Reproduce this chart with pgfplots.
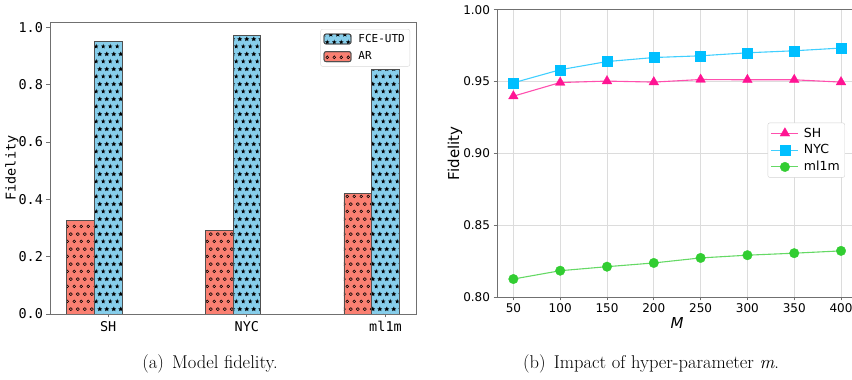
\documentclass[border=0pt]{standalone}
\usepackage{fontspec}
\usepackage{pgfplots}
\pgfplotsset{compat=1.18}
\usetikzlibrary{patterns.meta}
\newfontfamily\djs{DejaVu Sans}[ItalicFont={DejaVu Sans Oblique}]
\newfontfamily\djm{DejaVu Sans Mono}

\definecolor{salmonc}{HTML}{FA8072}
\definecolor{skyc}{HTML}{87CEEB}
\definecolor{pinkc}{HTML}{FF1493}
\definecolor{bluec}{HTML}{00BFFF}
\definecolor{greenc}{HTML}{32CD32}
\definecolor{spine}{HTML}{707070}
\definecolor{gridc}{HTML}{DCDCDC}
\definecolor{edgec}{HTML}{505050}

\tikzdeclarepattern{
  name=mpcircles,
  type=uncolored,
  bounding box={(0pt,0pt) and (7.2pt,15.2pt)},
  tile size={(7.2pt,15.2pt)},
  code={
    \draw[line width=0.6pt] (3.6pt,3.8pt) circle (1.5pt);
    \draw[line width=0.6pt] (0pt,11.4pt) circle (1.5pt);
    \draw[line width=0.6pt] (7.2pt,11.4pt) circle (1.5pt);
  }
}
\tikzdeclarepattern{
  name=mpstars,
  type=uncolored,
  bounding box={(0pt,0pt) and (7.2pt,15.2pt)},
  tile size={(7.2pt,15.2pt)},
  code={
    \foreach \cx/\cy in {3.6/3.8, 0/11.4, 7.2/11.4}{
      \fill[shift={(\cx pt,\cy pt)}] (90:2.6pt) -- (126:1.1pt) -- (162:2.6pt) -- (198:1.1pt) -- (234:2.6pt) -- (270:1.1pt) -- (306:2.6pt) -- (342:1.1pt) -- (18:2.6pt) -- (54:1.1pt) -- cycle;
    }
  }
}
\pgfplotsset{
  rectlegend/.style={legend image code/.code={\draw[##1] (0pt,-5pt) rectangle (27pt,5pt);}},
  linelegend/.style={legend image code/.code={\draw[mark repeat=2,mark phase=2,##1] plot coordinates {(0pt,0pt) (13.5pt,0pt) (27pt,0pt)};}},
}

\begin{document}
\begin{tikzpicture}
\path[use as bounding box] (0pt,0pt) rectangle (852pt,380pt);

% ---------- (a) ----------
\begin{axis}[
  at={(50pt,66pt)}, anchor=south west, scale only axis,
  width=366pt, height=292pt,
  xmin=-0.42, xmax=2.22, ymin=0, ymax=1.0185,
  xtick={0,1,2}, xticklabels={SH,NYC,ml1m},
  ytick={0,0.2,0.4,0.6,0.8,1.0},
  tick pos=left, tick align=outside, major tick length=3.5pt,
  axis line style={spine, line width=0.8pt},
  tick style={spine, line width=0.8pt},
  /pgf/number format/assume math mode=true,
  ticklabel style={font=\djm\fontsize{13.5}{16}\selectfont, text=black},
  yticklabel style={/pgf/number format/.cd, fixed, fixed zerofill, precision=1},
  ylabel={Fidelity},
  ylabel style={font=\djm\fontsize{13.5}{16}\selectfont, at={(axis description cs:-0.104,0.5)}, anchor=center},
  ybar, bar width=0.2,
  legend style={at={(axis description cs:0.9836,0.976)}, anchor=north east,
    font=\djm\fontsize{11}{13}\selectfont, draw=gray!30, rounded corners=2pt,
    row sep=4pt, inner sep=3pt,
    /tikz/every odd column/.append style={column sep=5pt}},
  legend cell align=left,
]
\addplot[bar shift=0pt, fill=skyc, draw=edgec, line width=0.8pt,
  postaction={pattern={mpstars}, pattern color=black}, rectlegend]
  coordinates {(0,0.950) (1,0.973) (2,0.852)};
\addlegendentry{FCE-UTD}
\addplot[bar shift=0pt, fill=salmonc, draw=edgec, line width=0.8pt,
  postaction={pattern={mpcircles}, pattern color=black}, rectlegend]
  coordinates {(-0.2,0.327) (0.8,0.291) (1.8,0.419)};
\addlegendentry{AR}
\end{axis}

% ---------- (b) ----------
\begin{axis}[
  at={(497pt,83pt)}, anchor=south west, scale only axis,
  width=360.4pt, height=287.3pt,
  xmin=32.5, xmax=417.5, ymin=0.8, ymax=1.0,
  xtick={50,100,150,200,250,300,350,400},
  ytick={0.80,0.85,0.90,0.95,1.00},
  grid=major, major grid style={gridc, line width=0.8pt},
  tick pos=left, tick align=outside, major tick length=3.5pt,
  axis line style={spine, line width=0.8pt},
  tick style={spine, line width=0.8pt},
  /pgf/number format/assume math mode=true,
  ticklabel style={font=\djs\fontsize{12}{14}\selectfont, text=black},
  yticklabel style={/pgf/number format/.cd, fixed, fixed zerofill, precision=2},
  xticklabel style={/pgf/number format/.cd, fixed, precision=0},
  ylabel={Fidelity},
  ylabel style={font=\djs\fontsize{15}{18}\selectfont, at={(axis description cs:-0.1165,0.5)}, anchor=center},
  xlabel={\itshape M},
  xlabel style={font=\djs\fontsize{15}{18}\selectfont, at={(axis description cs:0.5,-0.0905)}, anchor=center},
  legend style={at={(axis description cs:0.751,0.6067)}, anchor=north west,
    font=\djs\fontsize{12.5}{15}\selectfont, draw=gray!35, fill=white,
    rounded corners=2pt, row sep=2pt, inner sep=3pt,
    /tikz/every odd column/.append style={column sep=3pt}},
  legend cell align=left,
]
\addplot[color=pinkc!75!white, line width=1.1pt, mark=triangle*, mark size=5.6pt,
  mark options={solid, fill=pinkc, draw=pinkc, line width=0.3pt}, linelegend]
  coordinates {(50,0.9398) (100,0.9493) (150,0.9503) (200,0.9496) (250,0.9514) (300,0.9512) (350,0.9512) (400,0.9496)};
\addlegendentry{SH}
\addplot[color=bluec!75!white, line width=1.1pt, mark=square*, mark size=5pt,
  mark options={solid, fill=bluec, draw=bluec, line width=0.3pt}, linelegend]
  coordinates {(50,0.9491) (100,0.9582) (150,0.9639) (200,0.9667) (250,0.9679) (300,0.9700) (350,0.9714) (400,0.9733)};
\addlegendentry{NYC}
\addplot[color=greenc!75!white, line width=1.1pt, mark=*, mark size=4.8pt,
  mark options={solid, fill=greenc, draw=greenc, line width=0.3pt}, linelegend]
  coordinates {(50,0.8125) (100,0.8183) (150,0.8211) (200,0.8237) (250,0.8272) (300,0.8291) (350,0.8305) (400,0.8321)};
\addlegendentry{ml1m}
\end{axis}

\node[anchor=base, font=\fontsize{18.5}{22}\selectfont] at (210pt,11pt) {(a)\hspace{0.45em}Model fidelity.};
\node[anchor=base, font=\fontsize{18.5}{22}\selectfont] at (651pt,11pt) {(b)\hspace{0.45em}Impact of hyper-parameter \textit{m}.};
\end{tikzpicture}
\end{document}
